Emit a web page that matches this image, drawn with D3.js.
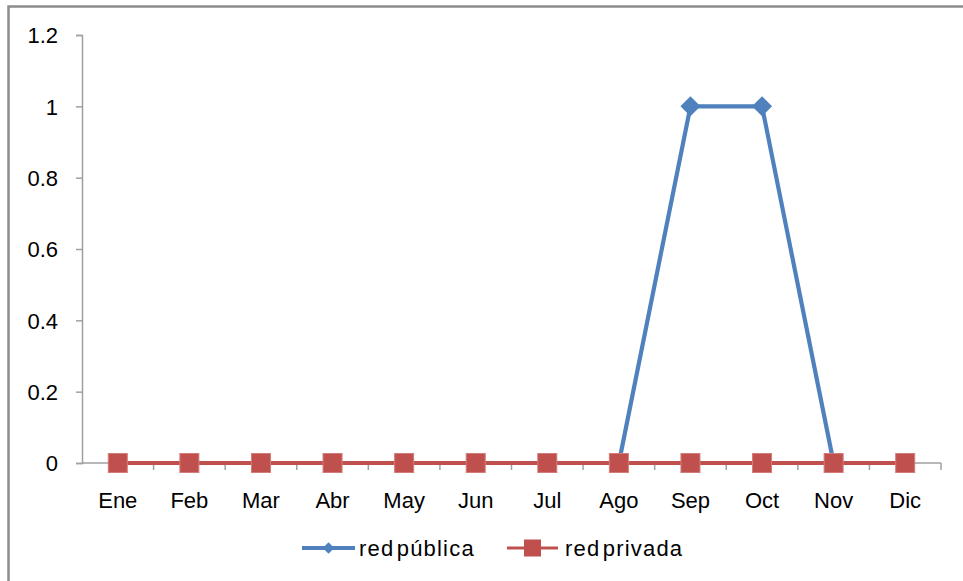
<!DOCTYPE html>
<html>
<head>
    <meta charset="utf-8">
    <title>red pública / red privada</title>
    <style>
        body { margin: 0; background: #fff; }
        svg { display: block; font-family: "Liberation Sans", Arial, sans-serif; }
        .axis path, .axis line { stroke: #a0a0a0; stroke-width: 1.5px; }
        .axis text { fill: #000; font-size: 22px; }
    </style>
    <script src="https://d3js.org/d3.v7.min.js"></script>
</head>
<body>
<script>
    // data
    var months = ["Ene", "Feb", "Mar", "Abr", "May", "Jun", "Jul", "Ago", "Sep", "Oct", "Nov", "Dic"];
    var redPublica = [0, 0, 0, 0, 0, 0, 0, 0, 1, 1, 0, 0];
    var redPrivada = [0, 0, 0, 0, 0, 0, 0, 0, 0, 0, 0, 0];
    var yTicks = [0, 0.2, 0.4, 0.6, 0.8, 1, 1.2];

    var W = 963, H = 581;
    var margin = {top: 35, right: 22, bottom: 118, left: 82},
        width = W - margin.left - margin.right,
        height = H - margin.top - margin.bottom;

    var svg = d3.select("body").append("svg")
        .attr("width", W)
        .attr("height", H);

    // outer chart border (runs off the right and bottom edges)
    svg.append("rect")
        .attr("x", 8.5).attr("y", 6.5)
        .attr("width", W + 20).attr("height", H + 20)
        .attr("fill", "none")
        .attr("stroke", "#8c8c8c")
        .attr("stroke-width", 2.5);

    var g = svg.append("g")
        .attr("transform", "translate(" + margin.left + "," + margin.top + ")");

    var x = d3.scaleBand().domain(months).range([0, width]);
    var y = d3.scaleLinear().domain([0, 1.2]).range([height, 0]);

    // y axis
    var yAxis = g.append("g").attr("class", "axis")
        .call(d3.axisLeft(y).tickValues(yTicks).tickSize(6).tickPadding(18)
            .tickFormat(function(d) { return d3.format("")(+d.toFixed(1)); }));
    yAxis.selectAll("text").attr("dy", "0.35em");

    // x axis, ticks on category boundaries
    var xAxis = g.append("g").attr("class", "axis")
        .attr("transform", "translate(0," + height + ")")
        .call(d3.axisBottom(x).tickSize(0).tickPadding(29));
    xAxis.select(".domain").attr("d", "M0,0H" + width);
    xAxis.selectAll(".bound")
        .data(d3.range(1, months.length + 1))
        .enter().append("line")
        .attr("class", "bound")
        .attr("x1", function(i) { return i * x.bandwidth(); })
        .attr("x2", function(i) { return i * x.bandwidth(); })
        .attr("y1", 0).attr("y2", 7);

    var line = d3.line()
        .x(function(d, i) { return x(months[i]) + x.bandwidth() / 2; })
        .y(function(d) { return y(d); });

    var blue = "#4f81bd", red = "#c0504d";

    // red pública
    g.append("path")
        .datum(redPublica)
        .attr("d", line)
        .attr("fill", "none")
        .attr("stroke", blue)
        .attr("stroke-width", 4.2)
        .attr("stroke-linejoin", "round");

    var diamond = d3.symbol().type(d3.symbolSquare).size(200);

    g.selectAll(".dia")
        .data(redPublica)
        .enter().append("path")
        .attr("class", "dia")
        .attr("d", diamond)
        .attr("transform", function(d, i) {
            return "translate(" + (x(months[i]) + x.bandwidth() / 2) + "," + y(d) + ") rotate(45)";
        })
        .attr("fill", blue);

    // red privada
    g.append("path")
        .datum(redPrivada)
        .attr("d", line)
        .attr("fill", "none")
        .attr("stroke", red)
        .attr("stroke-width", 4);

    g.selectAll(".sq")
        .data(redPrivada)
        .enter().append("rect")
        .attr("class", "sq")
        .attr("x", function(d, i) { return x(months[i]) + x.bandwidth() / 2 - 9.5; })
        .attr("y", function(d) { return y(d) - 9.5; })
        .attr("width", 19).attr("height", 19)
        .attr("fill", red)
        .attr("stroke", "#d47c79")
        .attr("stroke-width", 1);

    // legend
    var legend = svg.append("g").attr("transform", "translate(0,548)");
    var items = [
        {name: "red pública", color: blue, x1: 302, x2: 355, tx: 359, shape: "dia"},
        {name: "red privada", color: red, x1: 507, x2: 558, tx: 565, shape: "sq"}
    ];
    items.forEach(function(it) {
        legend.append("line")
            .attr("x1", it.x1).attr("x2", it.x2)
            .attr("y1", 0).attr("y2", 0)
            .attr("stroke", it.color)
            .attr("stroke-width", it.shape === "dia" ? 4 : 3);
        var cx = (it.x1 + it.x2) / 2;
        if (it.shape === "dia") {
            legend.append("path")
                .attr("d", d3.symbol().type(d3.symbolSquare).size(64))
                .attr("transform", "translate(" + cx + ",0) rotate(45)")
                .attr("fill", it.color);
        } else {
            legend.append("rect")
                .attr("x", cx - 8.5).attr("y", -8.5)
                .attr("width", 17).attr("height", 17)
                .attr("fill", it.color);
        }
        legend.append("text")
            .attr("x", it.tx).attr("y", 0)
            .attr("dy", "0.38em")
            .attr("font-size", "22px")
            .attr("letter-spacing", "1.2px")
            .attr("word-spacing", "-5px")
            .text(it.name);
    });
</script>
</body>
</html>
